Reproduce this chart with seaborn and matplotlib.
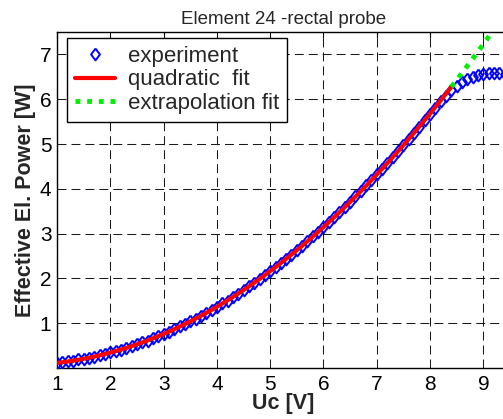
import numpy as np
import pandas as pd
import matplotlib
matplotlib.use("Agg")
import matplotlib.pyplot as plt
import seaborn as sns

# Measured control voltage [V] and effective electrical power [W]
uc = [1.0, 1.1, 1.2, 1.3, 1.4, 1.5, 1.6, 1.7, 1.8, 1.9,
      2.0, 2.1, 2.2, 2.3, 2.4, 2.5, 2.6, 2.7, 2.8, 2.9,
      3.0, 3.1, 3.2, 3.3, 3.4, 3.5, 3.6, 3.7, 3.8, 3.9,
      4.0, 4.1, 4.2, 4.3, 4.4, 4.5, 4.6, 4.7, 4.8, 4.9,
      5.0, 5.1, 5.2, 5.3, 5.4, 5.5, 5.6, 5.7, 5.8, 5.9,
      6.0, 6.1, 6.2, 6.3, 6.4, 6.5, 6.6, 6.7, 6.8, 6.9,
      7.0, 7.1, 7.2, 7.3, 7.4, 7.5, 7.6, 7.7, 7.8, 7.9,
      8.0, 8.1, 8.2, 8.3, 8.4, 8.5, 8.6, 8.7, 8.8, 8.9,
      9.0, 9.1, 9.2, 9.3, 9.4]
power = [0.11, 0.14, 0.15, 0.16, 0.19, 0.21, 0.23, 0.25, 0.29, 0.31,
         0.35, 0.37, 0.41, 0.45, 0.48, 0.53, 0.57, 0.61, 0.66, 0.71,
         0.76, 0.81, 0.86, 0.93, 0.98, 1.04, 1.09, 1.17, 1.22, 1.30,
         1.36, 1.44, 1.50, 1.59, 1.66, 1.73, 1.82, 1.90, 1.99, 2.07,
         2.16, 2.25, 2.35, 2.43, 2.53, 2.63, 2.73, 2.83, 2.94, 3.04,
         3.15, 3.25, 3.37, 3.48, 3.60, 3.71, 3.83, 3.95, 4.08, 4.20,
         4.32, 4.45, 4.58, 4.71, 4.85, 4.98, 5.12, 5.25, 5.39, 5.53,
         5.67, 5.81, 5.95, 6.08, 6.20, 6.30, 6.38, 6.44, 6.49, 6.53,
         6.56, 6.58, 6.59, 6.58, 6.57]

# Range used for the quadratic fit and for its extrapolation
fit_max = 8.2
fit_end = 8.4
extrap_end = 9.5

df = pd.DataFrame({"Uc": uc, "P": power})
fit_df = df[df["Uc"] <= fit_max]
coef = np.polyfit(fit_df["Uc"], fit_df["P"], 2)

x_fit = np.linspace(1.0, fit_end, 120)
x_ext = np.linspace(fit_end, extrap_end, 60)
fit_curve = pd.DataFrame({"Uc": x_fit, "P": np.polyval(coef, x_fit)})
ext_curve = pd.DataFrame({"Uc": x_ext, "P": np.polyval(coef, x_ext)})

sns.set_style("white")
plt.rcParams["font.family"] = ["Liberation Sans", "DejaVu Sans"]

fig = plt.figure(figsize=(5.03, 4.19), dpi=100)
ax = fig.add_axes([57 / 503, 1 - 368 / 419, 453 / 503, 336 / 419])

diamond = [(0, 1), (0.75, 0), (0, -1), (-0.75, 0), (0, 1)]

sns.lineplot(data=df, x="Uc", y="P", ax=ax, linestyle="none",
             marker=diamond, markersize=8.5, markerfacecolor="none",
             markeredgecolor="#0000ff", markeredgewidth=1.4,
             label="experiment", zorder=3)
sns.lineplot(data=fit_curve, x="Uc", y="P", ax=ax, color="#ff0000",
             linewidth=3.0, label="quadratic  fit", zorder=4)
sns.lineplot(data=ext_curve, x="Uc", y="P", ax=ax, color="#00ee00",
             linewidth=3.5, linestyle=(0, (1, 1.4)), label="extrapolation fit",
             zorder=4)

ax.set_xlim(1, 9.5)
ax.set_ylim(0, 7.5)
ax.set_xticks(range(1, 10))
ax.set_yticks(range(1, 8))

ax.grid(True, color="#1a1a1a", linestyle=(0, (8.6, 4.8)), linewidth=0.75)
ax.set_axisbelow(True)
for sp in ax.spines.values():
    sp.set_color("black")
    sp.set_linewidth(1.0)

ax.tick_params(axis="both", direction="in", length=4, width=0.8,
               top=True, right=True, labelsize=15, colors="black")
ax.tick_params(axis="x", pad=5)
ax.tick_params(axis="y", pad=4)

ax.set_title("Element 24 -rectal probe", fontsize=13.5, pad=6)
ax.set_xlabel("Uc [V]", fontsize=15.5, fontweight="bold", labelpad=-1)
ax.set_ylabel("Effective El. Power [W]", fontsize=15.5, fontweight="bold",
              labelpad=3)

leg = ax.legend(loc="upper left", bbox_to_anchor=(0.022, 0.982),
                borderaxespad=0, fontsize=16, frameon=True, fancybox=False,
                framealpha=1, edgecolor="black", numpoints=1,
                handlelength=1.8, handletextpad=0.6, labelspacing=0.12,
                borderpad=0.35)
leg.get_frame().set_linewidth(1.0)

fig.savefig("out.png", dpi=100, facecolor="white")
